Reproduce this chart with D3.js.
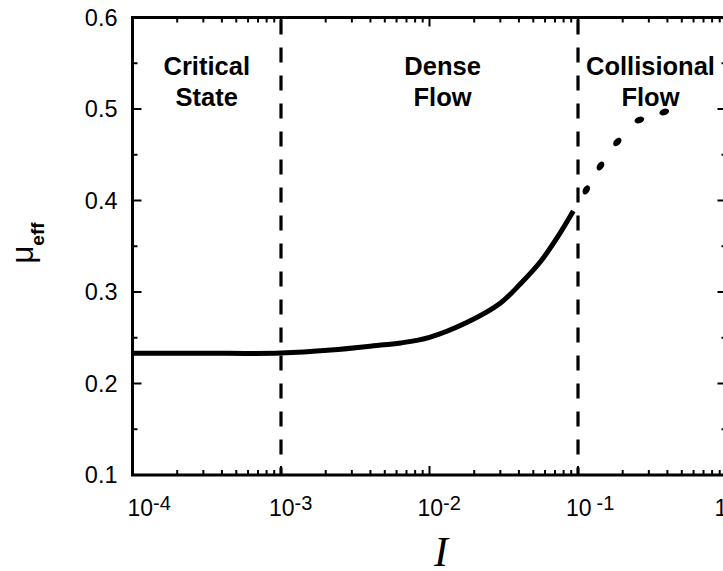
<!DOCTYPE html>
<html>
<head>
<meta charset="utf-8">
<script src="https://cdn.jsdelivr.net/npm/d3@7"></script>
<style>
  html, body { margin: 0; padding: 0; background: #fff; }
  svg { display: block; }
</style>
</head>
<body>
<script>
// ---- data ----
const solidI  = [1e-4, 3e-4, 1e-3, 0.00217, 0.0047, 0.0064, 0.01, 0.0181, 0.0301, 0.041, 0.0558, 0.0728, 0.093];
const solidMu = [0.2330, 0.2330, 0.2333, 0.2366, 0.2420, 0.2443, 0.2505, 0.2672, 0.2880, 0.3090, 0.3330, 0.3600, 0.3885];
const dotI    = [0.1137, 0.1416, 0.184, 0.259, 0.381];
const dotMu   = [0.4115, 0.4377, 0.464, 0.488, 0.4967];
const boundaries = [1e-3, 1e-1];
const regionNames = [["Critical", "State"], ["Dense", "Flow"], ["Collisional", "Flow"]];
const regionI = [Math.pow(10, -3.5), 0.01225, 0.3076];
const xMajor = [1e-4, 1e-3, 1e-2, 1e-1, 1];
const xExp = ["-4", "-3", "-2", "-1", "0"];
const yMajor = [0.1, 0.2, 0.3, 0.4, 0.5, 0.6];
const yMinor = [0.15, 0.25, 0.35, 0.45, 0.55];

// ---- layout ----
const W = 723, H = 571;
const L = 132.5, R = 726.5, T = 17.5, B = 475;
const x = d3.scaleLog().domain([1e-4, 1]).range([L, R]);
const y = d3.scaleLinear().domain([0.1, 0.6]).range([B, T]);

const svg = d3.select("body").append("svg").attr("width", W).attr("height", H);

// minor x ticks
const xMinor = [];
for (let e = -4; e < 0; e++) for (let k = 2; k <= 9; k++) xMinor.push(k * Math.pow(10, e));

const ticks = svg.append("g").attr("stroke", "#000").attr("stroke-width", 2);
xMajor.forEach(v => {
  ticks.append("line").attr("x1", x(v)).attr("x2", x(v)).attr("y1", B).attr("y2", B - 9);
  ticks.append("line").attr("x1", x(v)).attr("x2", x(v)).attr("y1", T).attr("y2", T + 9);
});
xMinor.forEach(v => {
  ticks.append("line").attr("x1", x(v)).attr("x2", x(v)).attr("y1", B).attr("y2", B - 5);
  ticks.append("line").attr("x1", x(v)).attr("x2", x(v)).attr("y1", T).attr("y2", T + 5);
});
yMajor.forEach(v => {
  ticks.append("line").attr("x1", L).attr("x2", L + 9).attr("y1", y(v)).attr("y2", y(v));
  ticks.append("line").attr("x1", R).attr("x2", R - 9).attr("y1", y(v)).attr("y2", y(v));
});
yMinor.forEach(v => {
  ticks.append("line").attr("x1", L).attr("x2", L + 5).attr("y1", y(v)).attr("y2", y(v));
  ticks.append("line").attr("x1", R).attr("x2", R - 5).attr("y1", y(v)).attr("y2", y(v));
});

// frame
svg.append("rect").attr("x", L).attr("y", T).attr("width", R - L).attr("height", B - T)
  .attr("fill", "none").attr("stroke", "#000").attr("stroke-width", 3);

// y tick labels
svg.append("g").selectAll("text").data(yMajor).join("text")
  .attr("x", L - 15).attr("y", d => y(d)).attr("dy", "0.36em")
  .attr("text-anchor", "end")
  .attr("font-family", "Liberation Sans, Arial, sans-serif").attr("font-size", 23.5)
  .text(d => d.toFixed(1));

// x tick labels
const xl = svg.append("g").attr("font-family", "Liberation Sans, Arial, sans-serif");
xMajor.forEach((v, i) => {
  const cx = x(v) + (i === 0 ? 7 : 0);
  const t = xl.append("text").attr("x", cx - 12).attr("y", 516).attr("font-size", 23);
  t.append("tspan").text("10");
  t.append("tspan").attr("dy", -6).attr("dx", i === 3 ? 5 : 0).attr("font-size", 20).text(xExp[i]);
});

// dashed boundaries
svg.append("g").selectAll("line").data(boundaries).join("line")
  .attr("x1", d => x(d)).attr("x2", d => x(d)).attr("y1", T + 2).attr("y2", B)
  .attr("stroke", "#000").attr("stroke-width", 3.2).attr("stroke-dasharray", "15,13");

// solid curve
const solid = solidI.map((d, i) => [x(d), y(solidMu[i])]);
svg.append("path").attr("d", d3.line().curve(d3.curveCatmullRom.alpha(0.5))(solid))
  .attr("fill", "none").attr("stroke", "#000").attr("stroke-width", 5);

// dotted continuation
dotI.forEach((d, i) => {
  const px = x(d), py = y(dotMu[i]);
  const j = Math.min(i + 1, dotI.length - 1), k = j === i ? i - 1 : i;
  const ang = Math.atan2(y(dotMu[j]) - y(dotMu[k]), x(dotI[j]) - x(dotI[k])) * 180 / Math.PI;
  svg.append("ellipse").attr("cx", px).attr("cy", py).attr("rx", 5).attr("ry", 3.2)
    .attr("transform", `rotate(${ang},${px},${py})`).attr("fill", "#000");
});

// region labels
regionNames.forEach((lines, i) => {
  const t = svg.append("text").attr("x", x(regionI[i])).attr("y", 75)
    .attr("text-anchor", "middle").attr("font-family", "Liberation Sans, Arial, sans-serif")
    .attr("font-weight", "bold").attr("font-size", 25.5);
  lines.forEach((s, k) => t.append("tspan").attr("x", x(regionI[i])).attr("dy", k ? 31 : 0).text(s));
});

// y axis label
const yl = svg.append("text").attr("transform", "translate(33,243) rotate(-90)")
  .attr("text-anchor", "middle").attr("font-family", "Liberation Sans, Arial, sans-serif")
  .attr("font-weight", "bold");
yl.append("tspan").attr("font-size", 31).attr("font-weight", "normal").text("μ");
yl.append("tspan").attr("font-size", 19).attr("dy", 11).text("eff");

// x axis label
svg.append("text").attr("x", 441).attr("y", 566).attr("text-anchor", "middle")
  .attr("font-family", "Liberation Serif, Times New Roman, serif").attr("font-style", "italic")
  .attr("font-size", 42).text("I");
</script>
</body>
</html>
